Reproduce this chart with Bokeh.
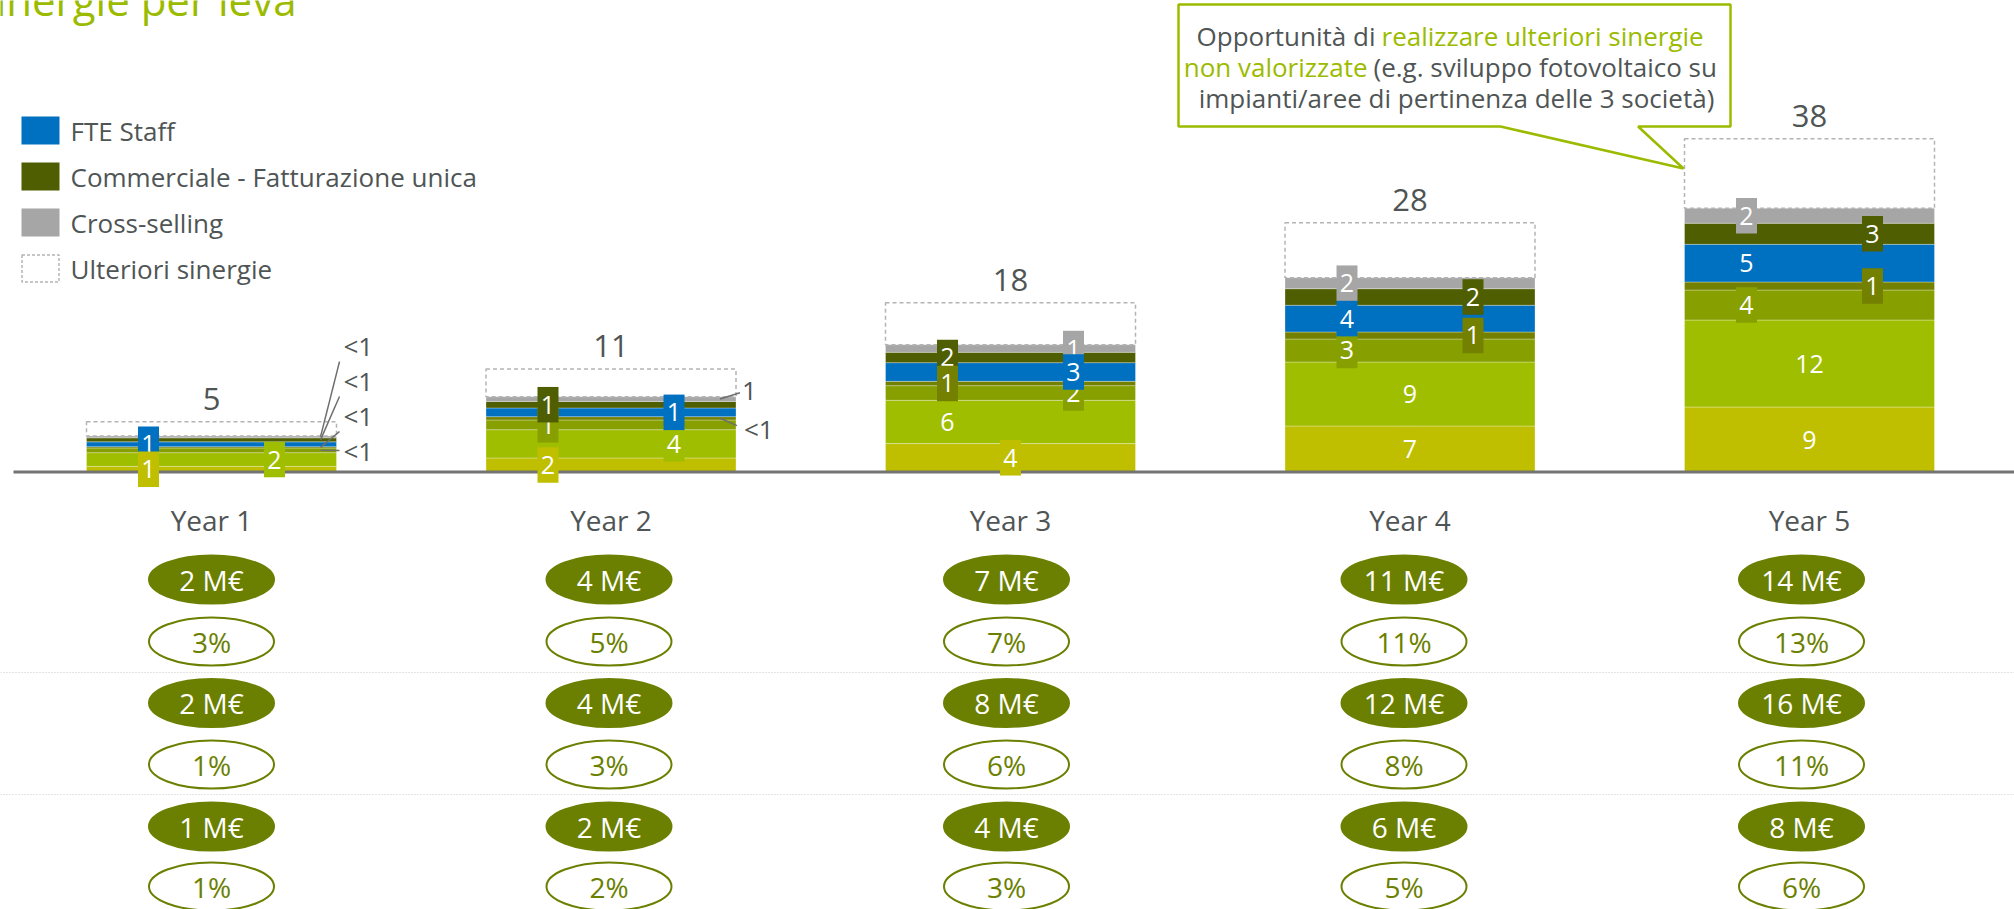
from bokeh.plotting import figure
from bokeh.models import Range1d
from bokeh.core.properties import value
from bokeh.embed import file_html
from bokeh.resources import INLINE

# ---------------- data ----------------
years = ["Year 1", "Year 2", "Year 3", "Year 4", "Year 5"]
year_pos = [1, 2, 3, 4, 5]

# stacked segments, bottom -> top
leva_a = [0.77, 1.92, 3.89, 6.30, 8.90]          # yellow
leva_b = [1.88, 3.88, 5.93, 8.77, 11.92]         # light green
leva_c = [0.64, 1.33, 2.01, 3.15, 4.11]          # olive
leva_d = [0.18, 0.45, 0.59, 0.96, 1.10]          # dark olive (thin)
fte_staff = [0.66, 1.19, 2.56, 3.66, 5.16]       # blue
commerciale = [0.55, 0.90, 1.41, 2.27, 2.88]     # dark green
cross_selling = [0.25, 0.64, 1.05, 1.51, 2.05]   # grey
ulteriori = [1.96, 3.79, 5.75, 7.53, 9.53]       # dashed box
totals = ["5", "11", "18", "28", "38"]

row1 = ["2 M€", "4 M€", "7 M€", "11 M€", "14 M€"]
row2 = ["3%", "5%", "7%", "11%", "13%"]
row3 = ["2 M€", "4 M€", "8 M€", "12 M€", "16 M€"]
row4 = ["1%", "3%", "6%", "8%", "11%"]
row5 = ["1 M€", "2 M€", "4 M€", "6 M€", "8 M€"]
row6 = ["1%", "2%", "3%", "5%", "6%"]

legend_labels = ["FTE Staff", "Commerciale - Fatturazione unica", "Cross-selling", "Ulteriori sinergie"]

# segment labels: (year index, segment key, text, side) -- drawn in order
seg_labels = [
    (0, "fte", "1", "L"), (0, "a", "1", "L"), (0, "b", "2", "R"),
    (1, "a", "2", "L"), (1, "c", "1", "L"), (1, "comm", "1", "L"), (1, "b", "4", "R"), (1, "fte", "1", "R"),
    (2, "a", "4", "C"), (2, "b", "6", "L"), (2, "comm", "2", "L"), (2, "d", "1", "L"),
    (2, "cross", "1", "R"), (2, "c", "2", "R"), (2, "fte", "3", "R"),
    (3, "a", "7", "C"), (3, "b", "9", "C"), (3, "c", "3", "L"), (3, "cross", "2", "L"), (3, "fte", "4", "L"),
    (3, "comm", "2", "R"), (3, "d", "1", "R"),
    (4, "a", "9", "C"), (4, "b", "12", "C"), (4, "c", "4", "L"), (4, "fte", "5", "L"), (4, "cross", "2", "L"),
    (4, "comm", "3", "R"), (4, "d", "1", "R"),
]
# leader labels outside the bars: (year index, segment key, text)
leaders = [(0, "cross", "<1"), (0, "comm", "<1"), (0, "d", "<1"), (0, "c", "<1"),
           (1, "cross", "1"), (1, "d", "<1")]

# ---------------- layout / style ----------------
PX = 399.5       # px per x unit
K = 7.3          # px per y unit
W, H = 2014, 909

def xd(X):
    return 1 + (X - 211) / PX

def yd(Y):
    return (471.5 - Y) / K

BAR_W = 250 / PX
SIDE = 63 / PX
ELL_SPREAD = 0.995
FONT = value("Open Sans")
GREY_TXT = "#4F5555"
GREEN = "#9BBB00"
OLIVE = "#6B8000"

colors = {"a": "#BFBF00", "b": "#A0BE00", "c": "#87A000", "d": "#738000",
          "fte": "#0070C0", "comm": "#4F5E00", "cross": "#A6A6A6"}
series = {"a": leva_a, "b": leva_b, "c": leva_c, "d": leva_d,
          "fte": fte_staff, "comm": commerciale, "cross": cross_selling}
order = ["a", "b", "c", "d", "fte", "comm", "cross"]

p = figure(width=W, height=H,
           x_range=Range1d(xd(0), xd(W)),
           y_range=Range1d(yd(H), yd(0)),
           output_backend="svg", toolbar_location=None,
           x_axis_location=None, y_axis_location=None, min_border=0)
p.outline_line_color = None
p.background_fill_color = "white"
p.border_fill_color = "white"
p.xgrid.visible = False
p.ygrid.visible = False

# stacked bars
bottoms = {}
cum = [0.0] * 5
for key in order:
    vals = series[key]
    top = [c + v for c, v in zip(cum, vals)]
    bottoms[key] = list(cum)
    p.vbar(x=year_pos, width=BAR_W, bottom=cum, top=top, fill_color=colors[key],
           line_color="white", line_alpha=0.3, line_width=1)
    cum = top
ult_top = [c + u for c, u in zip(cum, ulteriori)]
p.vbar(x=year_pos, width=BAR_W, bottom=cum, top=ult_top, fill_color="white", fill_alpha=0,
       line_color="#B4B4B4", line_dash="4 3", line_width=1.5)

def center(yi, key):
    return bottoms[key][yi] + series[key][yi] / 2

# baseline
p.line(x=[xd(13), xd(W)], y=[0, 0], line_color="#737373", line_width=3)

# dotted separators of the table
for Ysep in (672, 794):
    p.line(x=[xd(0), xd(W)], y=[yd(Ysep)] * 2, line_color="#C8C8C8", line_dash="1 2", line_width=1)

# leader lines and their labels
lead_lab_dx = [7, 7, 7, 7, 6, 8]
lead_lab_dy = [-91.3, -59.3, -31.8, 0.3, -8.3, 10.3]
lead_start_dx = [3, 3, 3, 3, 4, 1]
lead_start_dy = [-75.3, -43.3, -15.8, 0.3, -6.3, 7.3]
lead_end_dx = -16
for (yi, key, txt), ldx, ldy, sdx, sdy in zip(leaders, lead_lab_dx, lead_lab_dy, lead_start_dx, lead_start_dy):
    right = year_pos[yi] + BAR_W / 2
    cy = center(yi, key)
    p.line(x=[right + sdx / PX, right + lead_end_dx / PX], y=[cy - sdy / K, cy],
           line_color="#6E6E6E", line_width=1.5)
    p.text(x=[right + ldx / PX], y=[cy - ldy / K], text=[txt], text_align="left",
           text_baseline="middle", text_font=FONT, text_font_size="26px", text_color=GREY_TXT)

# labels inside bars (box + white text)
side_off = {"L": -SIDE, "C": 0.0, "R": SIDE}
for yi, key, txt, side in seg_labels:
    xx = year_pos[yi] + side_off[side]
    cy = center(yi, key)
    wbox = 21 if len(txt) == 1 else 34
    p.rect(x=[xx], y=[cy], width=wbox, height=35.5, width_units="screen", height_units="screen",
           fill_color=colors[key], line_color=None)
    p.text(x=[xx], y=[cy], text=[txt], text_align="center", text_baseline="middle",
           text_font=FONT, text_font_size="25px", text_color="white")

# totals above bars
p.text(x=year_pos, y=[t + 23 / K for t in ult_top], text=totals, text_align="center",
       text_baseline="middle", text_font=FONT, text_font_size="31px", text_color=GREY_TXT)

# year labels
p.text(x=year_pos, y=[yd(519)] * 5, text=years, text_align="center", text_baseline="middle",
       text_font=FONT, text_font_size="28px", text_color=GREY_TXT)

# table of ellipses
ell_x = [1 + (v - 1) * ELL_SPREAD for v in year_pos]
rows = [(row1, 579, True), (row2, 641, False), (row3, 702.5, True),
        (row4, 764, False), (row5, 826, True), (row6, 886, False)]
for texts, Yc, filled in rows:
    p.ellipse(x=ell_x, y=[yd(Yc)] * 5, width=125, height=48, width_units="screen", height_units="screen",
              fill_color=OLIVE if filled else "white", line_color=OLIVE, line_width=2)
    p.text(x=ell_x, y=[yd(Yc)] * 5, text=texts, text_align="center", text_baseline="middle",
           text_font=FONT, text_font_size="28px", text_color="white" if filled else OLIVE)

# legend
leg_y = [130, 176, 222, 268]
leg_fill = [colors["fte"], colors["comm"], colors["cross"], "white"]
for i, (lab, Yc) in enumerate(zip(legend_labels, leg_y)):
    if i < 3:
        p.rect(x=[xd(40)], y=[yd(Yc)], width=38, height=28, width_units="screen", height_units="screen",
               fill_color=leg_fill[i], line_color=None)
    else:
        p.rect(x=[xd(40)], y=[yd(Yc)], width=37, height=27, width_units="screen", height_units="screen",
               fill_color="white", line_color="#B4B4B4", line_dash="3 2", line_width=1.5)
    p.text(x=[xd(70)], y=[yd(Yc)], text=[lab], text_align="left", text_baseline="middle",
           text_font=FONT, text_font_size="26px", text_color=GREY_TXT)

# callout
cx = [1178, 1730, 1730, 1637.6, 1683, 1500, 1178]
cyv = [4, 4, 126, 126, 168, 126, 126]
p.patch(x=[xd(v) for v in cx], y=[yd(v) for v in cyv], fill_color="white",
        line_color=GREEN, line_width=2.5)
call_parts = [
    ("Opportunità di", 1375, 35, "right", GREY_TXT),
    ("realizzare ulteriori sinergie", 1381, 35, "left", GREEN),
    ("non valorizzate", 1367, 66, "right", GREEN),
    ("(e.g. sviluppo fotovoltaico su", 1373, 66, "left", GREY_TXT),
    ("impianti/aree di pertinenza delle 3 società)", 1456, 97, "center", GREY_TXT),
]
for txt, X, Yc, al, col in call_parts:
    p.text(x=[xd(X)], y=[yd(Yc)], text=[txt], text_align=al, text_baseline="middle",
           text_font=FONT, text_font_size="26px", text_color=col)

# title (clipped at the top-left like the original)
p.text(x=[xd(296)], y=[yd(-1)], text=["Sinergie per leva"], text_align="right",
       text_baseline="middle", text_font=FONT, text_font_size="42px", text_color=GREEN)

open("out.html", "w").write(file_html(p, INLINE))
